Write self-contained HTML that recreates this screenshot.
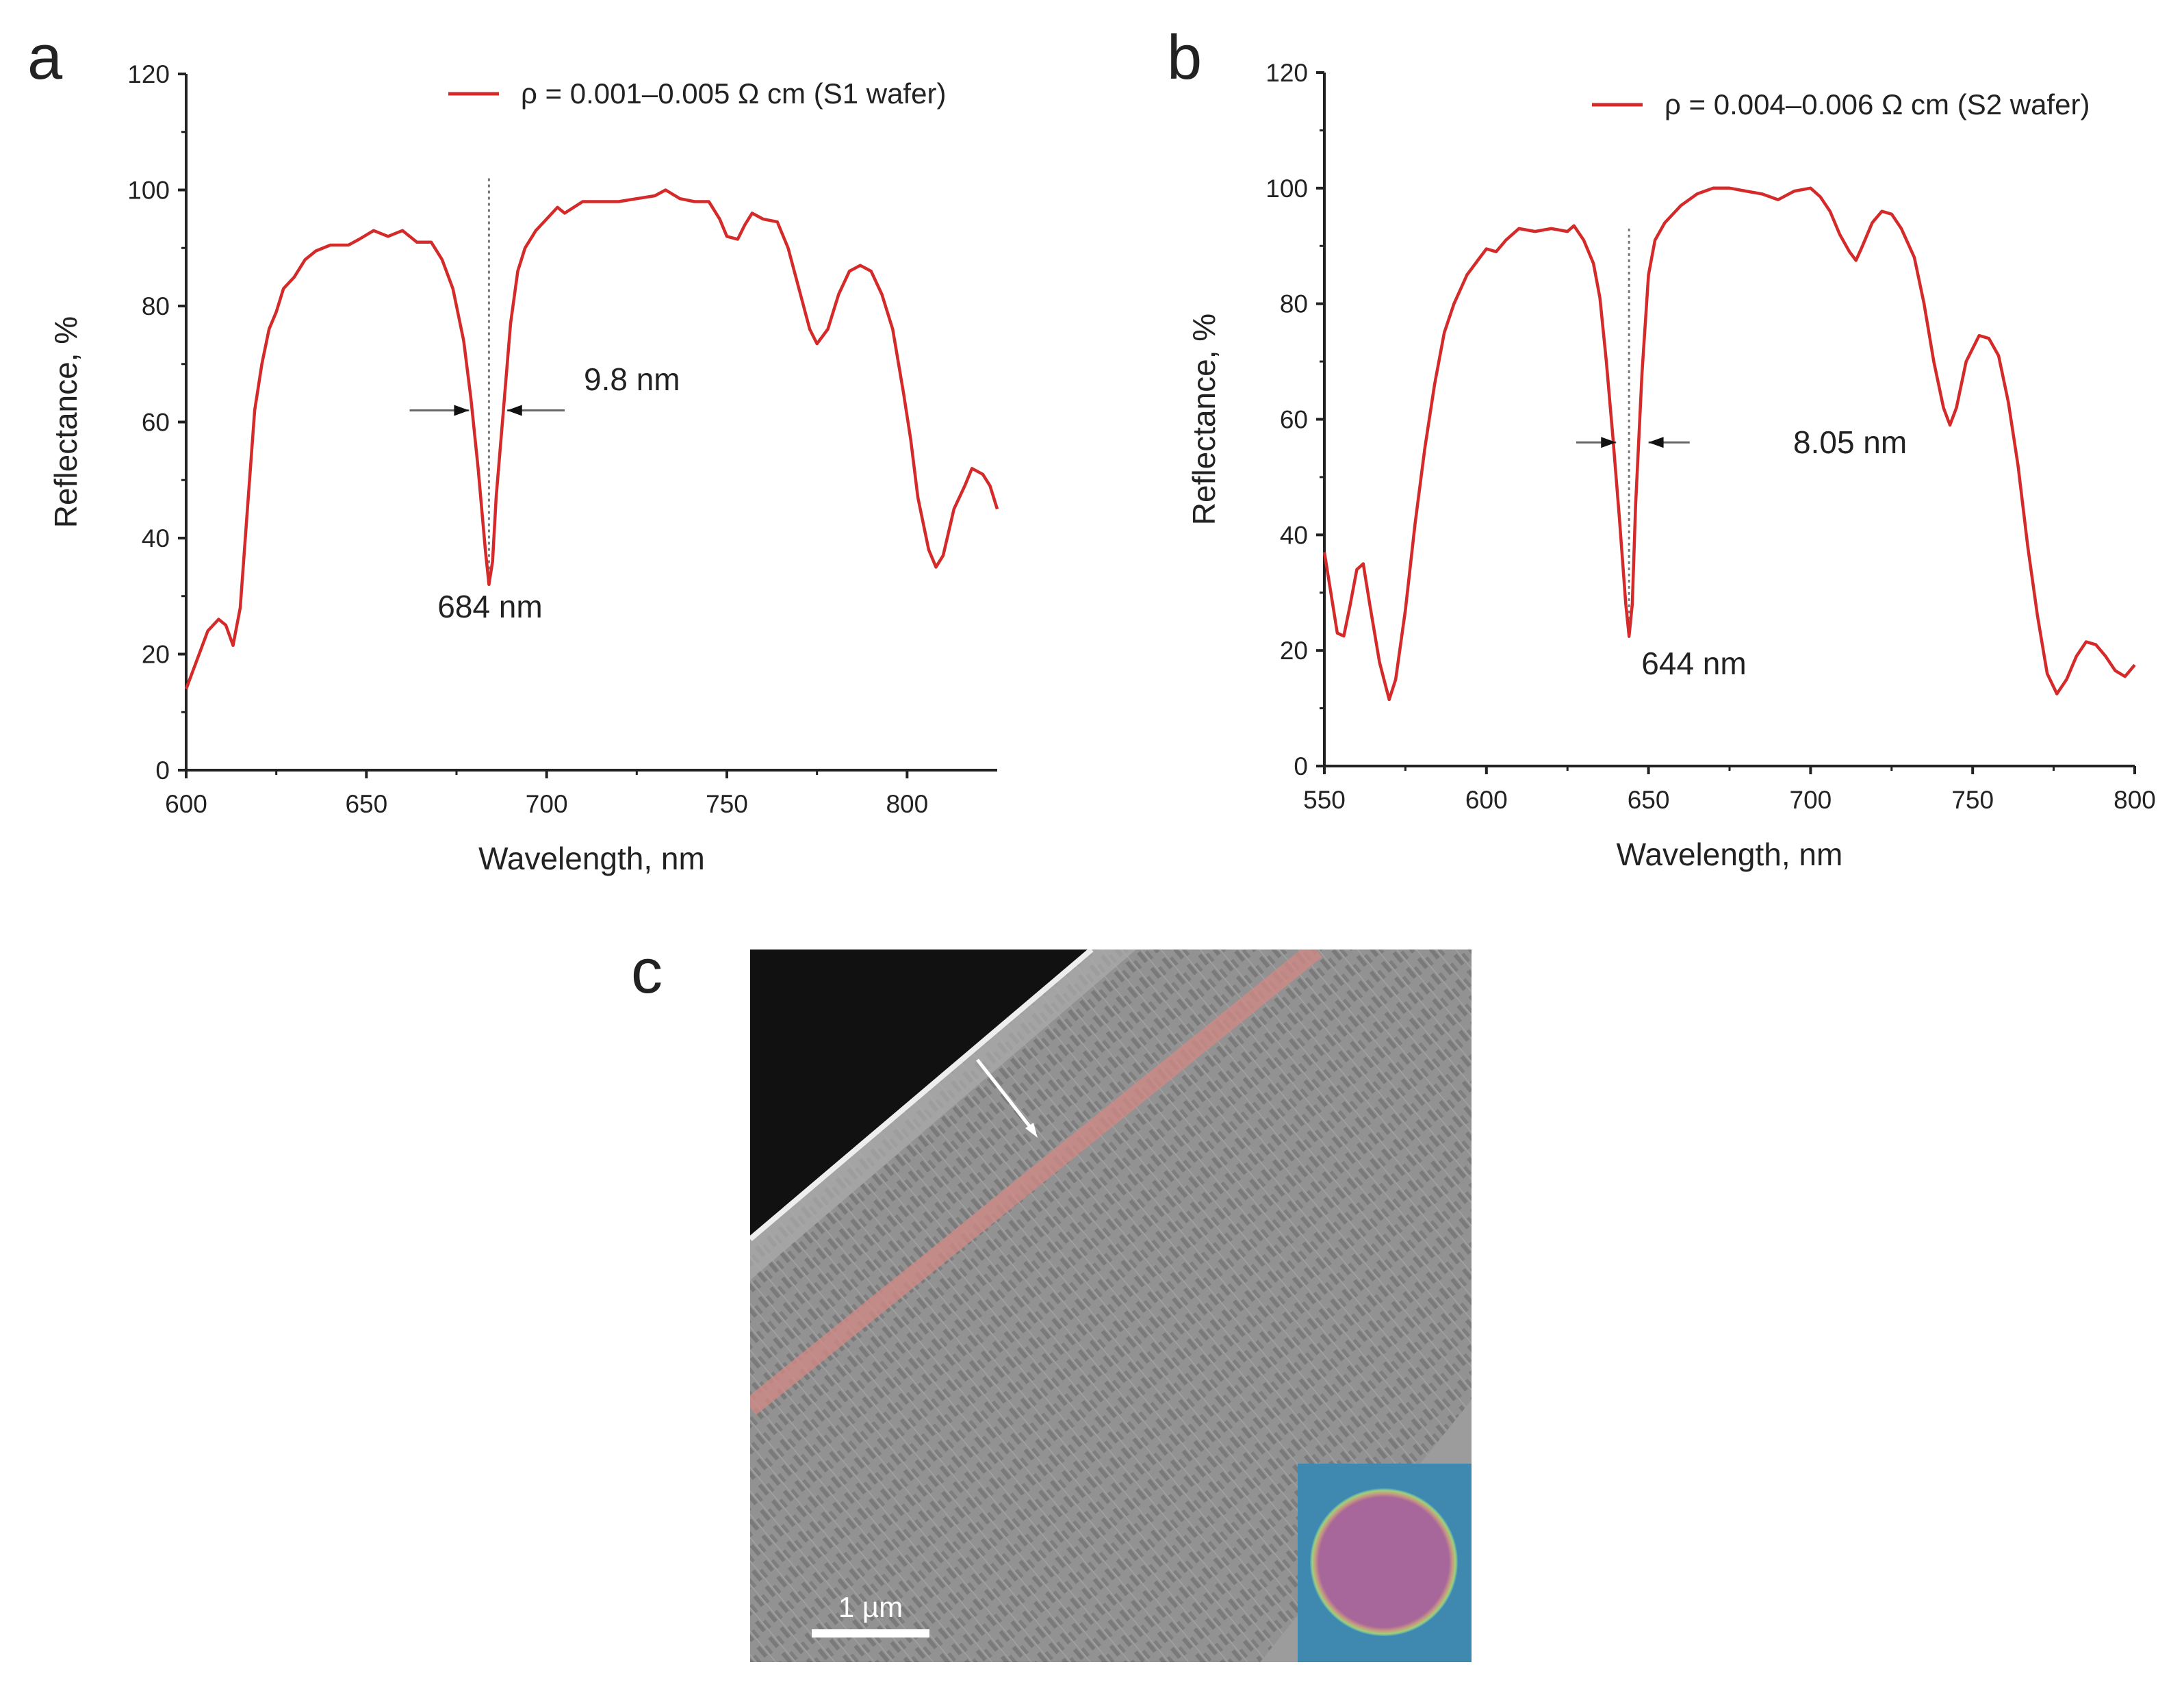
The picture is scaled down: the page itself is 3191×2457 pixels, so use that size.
<!DOCTYPE html>
<html><head><meta charset="utf-8"><style>
html,body{margin:0;padding:0;background:#fff}
svg{display:block}
text{font-family:"Liberation Sans",sans-serif;fill:#222}
</style></head><body>
<svg id="fig" width="3191" height="2457" viewBox="0 0 3191 2457" xmlns="http://www.w3.org/2000/svg">
<defs>
<pattern id="pores" width="22" height="30" patternUnits="userSpaceOnUse" patternTransform="rotate(-40)">
<rect width="22" height="30" fill="#929292"/>
<rect x="3" y="5" width="6" height="18" fill="#7a7a7a"/>
<rect x="13" y="11" width="5" height="14" fill="#7e7e7e"/>
<rect x="11" y="0" width="1.5" height="30" fill="#a2a2a2"/>
</pattern>
<radialGradient id="disk" cx="50%" cy="50%" r="50%">
<stop offset="0.88" stop-color="#a8679a"/>
<stop offset="0.93" stop-color="#c79a80"/>
<stop offset="0.97" stop-color="#9fd07a"/>
<stop offset="1" stop-color="#4a9ab8"/>
</radialGradient>
</defs>
<g id="panelA"></g>
<g id="panelB"></g>

<text x="40" y="115" font-size="92">a</text>
<text x="1705" y="115" font-size="92">b</text>
<text x="922" y="1450" font-size="92">c</text>

<g>
<clipPath id="semclip"><rect x="1096" y="1387" width="1054" height="1041"/></clipPath>
<g clip-path="url(#semclip)">
<rect x="1096" y="1387" width="1054" height="1041" fill="url(#pores)"/>
<polygon points="1096,1387 1660,1387 1096,1870" fill="#a9a9a9" opacity="0.75"/>
<polygon points="2150,2045 2150,2428 1841,2428" fill="#9c9c9c"/>
<polygon points="1096,1387 1595,1387 1096,1810" fill="#111"/>
<line x1="1595" y1="1387" x2="1096" y2="1810" stroke="#eee" stroke-width="8"/>
<line x1="1096" y1="2056" x2="1923" y2="1387" stroke="#d08a86" stroke-width="28" opacity="0.8"/>
<line x1="1428" y1="1548" x2="1512" y2="1655" stroke="#fff" stroke-width="5"/>
<polygon points="1516,1662 1498,1648 1510,1640" fill="#fff"/>
<rect x="1186" y="2380" width="172" height="12" fill="#fff"/>
<text x="1272" y="2362" font-size="42" text-anchor="middle" style="fill:#fff">1 µm</text>
<g>
<rect x="1896" y="2138" width="254" height="290" fill="#3f88b0"/>
<circle cx="2022" cy="2282" r="108" fill="url(#disk)"/>
</g>
</g>
</g>
</svg>
<script>
// Panel a data
const aWave = [600,603,606,609,611,613,615,617,619,621,623,625,627,630,633,636,640,645,648,652,656,660,664,668,671,674,677,679,681,683,684,685,686,688,690,692,694,697,700,703,705,710,715,720,725,730,733,737,741,745,748,750,753,755,757,760,764,767,770,773,775,778,781,784,787,790,793,796,799,801,803,806,808,810,813,816,818,821,823,825];
const aRefl = [14,19,24,26,25,21.5,28,45,62,70,76,79,83,85,88,89.5,90.5,90.5,91.5,93,92,93,91,91,88,83,74,64,52,38,32,36,47,62,77,86,90,93,95,97,96,98,98,98,98.5,99,100,98.5,98,98,95,92,91.5,94,96,95,94.5,90,83,76,73.5,76,82,86,87,86,82,76,65,57,47,38,35,37,45,49,52,51,49,45];
const aXTicks = [600,650,700,750,800];
const aYTicks = [0,20,40,60,80,100,120];
// Panel b data
const bWave = [550,552,554,556,558,560,562,564,567,570,572,575,578,581,584,587,590,594,598,600,603,606,610,615,620,625,627,630,633,635,637,639,641,643,644,645,646,648,650,652,655,660,665,670,675,680,685,690,695,700,703,706,709,712,714,716,719,722,725,728,732,735,738,741,743,745,748,752,755,758,761,764,767,770,773,776,779,782,785,788,791,794,797,800];
const bRefl = [37,30,23,22.5,28,34,35,28,18,11.5,15,27,42,55,66,75,80,85,88,89.5,89,91,93,92.5,93,92.5,93.5,91,87,81,70,57,43,28,22.5,28,45,68,85,91,94,97,99,100,100,99.5,99,98,99.5,100,98.5,96,92,89,87.5,90,94,96,95.5,93,88,80,70,62,59,62,70,74.5,74,71,63,52,38,26,16,12.5,15,19,21.5,21,19,16.5,15.5,17.5];
const bXTicks = [550,600,650,700,750,800];
const bYTicks = [0,20,40,60,80,100,120];

const NS = "http://www.w3.org/2000/svg";
function mk(parent, tag, attrs, txt){
  const e = document.createElementNS(NS, tag);
  for (const k in attrs) e.setAttribute(k, attrs[k]);
  if (txt !== undefined) e.textContent = txt;
  parent.appendChild(e);
  return e;
}
function drawPanel(g, cfg){
  const sx = v => cfg.x0 + (v - cfg.xmin) / (cfg.xmax - cfg.xmin) * (cfg.x1 - cfg.x0);
  const sy = v => cfg.y0 - v / 120 * (cfg.y0 - cfg.y1);
  const ax = mk(g, 'path', {d:`M${cfg.x0},${cfg.y1} V${cfg.y0} H${cfg.x1}`, stroke:'#222', 'stroke-width':4, fill:'none'});
  
  
  cfg.xt.forEach(v => {
    mk(g, 'line', {x1:sx(v), x2:sx(v), y1:cfg.y0, y2:cfg.y0+12, stroke:'#222','stroke-width':4});
    const t = mk(g, 'text', {x:sx(v), y:cfg.y0+62, 'font-size':37, 'text-anchor':'middle'}, String(v));
    
    
    const m = v + (cfg.xt[1]-cfg.xt[0])/2;
    if (m < cfg.xmax) mk(g, 'line', {x1:sx(m), x2:sx(m), y1:cfg.y0, y2:cfg.y0+7, stroke:'#222','stroke-width':3});
  });
  cfg.yt.forEach(v => {
    mk(g, 'line', {x1:cfg.x0-12, x2:cfg.x0, y1:sy(v), y2:sy(v), stroke:'#222','stroke-width':4});
    const t = mk(g, 'text', {x:cfg.x0-24, y:sy(v)+13, 'font-size':37, 'text-anchor':'end'}, String(v));
    
    
    if (v < 120) mk(g, 'line', {x1:cfg.x0-7, x2:cfg.x0, y1:sy(v+10), y2:sy(v+10), stroke:'#222','stroke-width':3});
  });
  const xt = mk(g, 'text', {x:(cfg.x0+cfg.x1)/2, y:cfg.y0+145, 'font-size':46, 'text-anchor':'middle'}, 'Wavelength, nm');
  
  
  const yt = mk(g, 'text', {x:0, y:0, 'font-size':46, 'text-anchor':'middle', transform:`translate(${cfg.x0-160},${(cfg.y0+cfg.y1)/2}) rotate(-90)`}, 'Reflectance, %');
  
  
  const dl = mk(g, 'line', {x1:sx(cfg.dip), x2:sx(cfg.dip), y1:sy(cfg.dotTop), y2:sy(cfg.dotBot), stroke:'#777','stroke-width':3,'stroke-dasharray':'4 5'});
  
  
  let d = '';
  cfg.wx.forEach((w,i) => { d += (i?'L':'M') + sx(w).toFixed(1) + ',' + sy(cfg.wy[i]).toFixed(1); });
  const p = mk(g, 'path', {d, stroke:'#d42a2a','stroke-width':4.5, fill:'none','stroke-linejoin':'round'});
  
  
  const ay = sy(cfg.arrY);
  [[cfg.arr[0], cfg.arr[1], 1],[cfg.arr[3], cfg.arr[2], -1]].forEach(([a,b,dir]) => {
    const ag = mk(g, 'g', {});
    
    
    mk(ag, 'line', {x1:sx(a), x2:sx(b), y1:ay, y2:ay, stroke:'#666','stroke-width':3});
    const tip = sx(b);
    mk(ag, 'polygon', {points:`${tip},${ay} ${tip-dir*22},${ay-8} ${tip-dir*22},${ay+8}`, fill:'#111'});
  });
  const w1 = mk(g, 'text', {x:cfg.fwX, y:cfg.fwY, 'font-size':46}, cfg.fwText);
  
  
  const w2 = mk(g, 'text', {x:cfg.dipX, y:cfg.dipY, 'font-size':46, 'text-anchor':'middle'}, cfg.dipText);
  
  
  const lg = mk(g, 'g', {});
  
  
  mk(lg, 'line', {x1:cfg.legX, x2:cfg.legX+74, y1:cfg.legY, y2:cfg.legY, stroke:'#d42a2a','stroke-width':5});
  mk(lg, 'text', {x:cfg.legX+106, y:cfg.legY+14, 'font-size':42}, cfg.legText);
}
drawPanel(document.getElementById('panelA'), {
  x0:272, x1:1457, y0:1125, y1:108, xmin:600, xmax:825, xt:aXTicks, yt:aYTicks,
  wx:aWave, wy:aRefl, dip:684, dotTop:102, dotBot:32, arrY:62, arr:[662,678.5,689,705],
  fwX:853, fwY:570, fwText:'9.8 nm', dipX:716, dipY:902, dipText:'684 nm',
  legX:655, legY:137, legText:'ρ = 0.001–0.005 Ω cm (S1 wafer)'
});
drawPanel(document.getElementById('panelB'), {
  x0:1935, x1:3119, y0:1119, y1:106, xmin:550, xmax:800, xt:bXTicks, yt:bYTicks,
  wx:bWave, wy:bRefl, dip:644, dotTop:93, dotBot:22, arrY:56, arr:[627.7,640,650,662.7],
  fwX:2620, fwY:662, fwText:'8.05 nm', dipX:2475, dipY:985, dipText:'644 nm',
  legX:2326, legY:153, legText:'ρ = 0.004–0.006 Ω cm (S2 wafer)'
});
</script>
</body></html>
